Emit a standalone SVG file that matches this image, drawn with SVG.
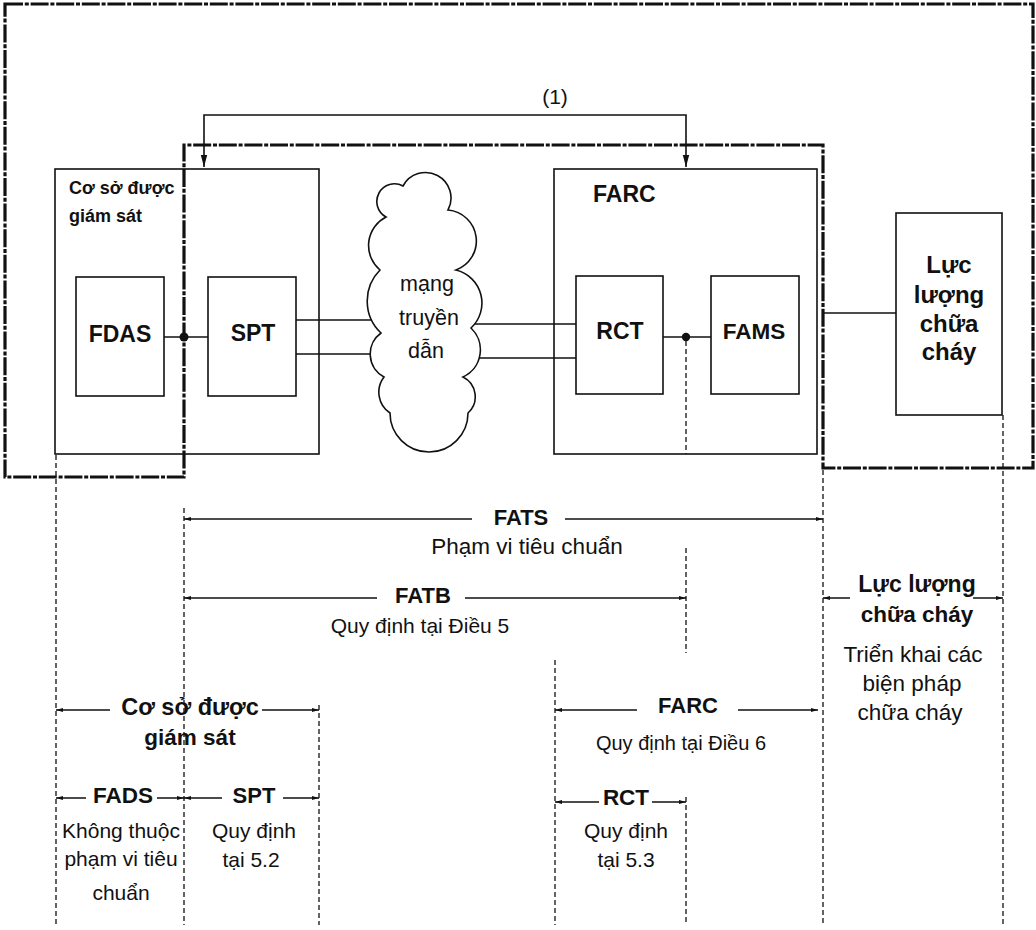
<svg xmlns="http://www.w3.org/2000/svg" width="1036" height="930" viewBox="0 0 1036 930">
<style>
.box{fill:none;stroke:#111;stroke-width:1.6}
.thick{fill:none;stroke:#111;stroke-width:3.2;stroke-dasharray:18 1.8 4 1.8}
.dash{fill:none;stroke:#111;stroke-width:1.3;stroke-dasharray:5 3}
.ln{fill:none;stroke:#111;stroke-width:1.6}
.br{fill:none;stroke:#111;stroke-width:1.5;marker-end:url(#sa)}
.b{font-family:"Liberation Sans",Arial,sans-serif;font-weight:bold;fill:#111}
.r{font-family:"Liberation Sans",Arial,sans-serif;fill:#111}
.m{text-anchor:middle}
</style>
<defs>
<marker id="ar" viewBox="0 0 12 8" refX="12" refY="4" markerWidth="12" markerHeight="8" markerUnits="userSpaceOnUse" orient="auto-start-reverse">
<path d="M0,0.8 L12,4 L0,7.2 Z" fill="#111"/>
</marker>
<marker id="sa" viewBox="0 0 7 5" refX="7" refY="2.5" markerWidth="7" markerHeight="5" markerUnits="userSpaceOnUse" orient="auto">
<path d="M0,0.5 L7,2.5 L0,4.5 Z" fill="#111"/>
</marker>
</defs>
<rect width="1036" height="930" fill="#fff"/>

<g id="scope-border">
<path class="thick" d="M5,4 H1033 V468 H823 V145 H184 V477 H5 Z"/>
</g>

<g id="connectors">
<path class="ln" d="M204,167 V115 H686 V167" stroke-width="2" marker-start="url(#ar)" marker-end="url(#ar)"/>
<line class="ln" x1="164" y1="337" x2="208" y2="337"/>
<line class="ln" x1="296" y1="320" x2="395" y2="320"/>
<line class="ln" x1="296" y1="354" x2="395" y2="354"/>
<line class="ln" x1="455" y1="324" x2="576" y2="324"/>
<line class="ln" x1="455" y1="358" x2="576" y2="358"/>
<line class="ln" x1="663" y1="337" x2="711" y2="337"/>
<line class="ln" x1="823" y1="313" x2="896" y2="313"/>
<circle cx="184" cy="337" r="4.5" fill="#111"/>
<circle cx="686" cy="337" r="4.2" fill="#111"/>
<line class="dash" x1="686" y1="341" x2="686" y2="454"/>
</g>

<g id="label-1">
<text class="r m" x="555" y="104" font-size="21">(1)</text>
</g>

<g id="node-co-so">
<rect class="box" x="55" y="169" width="264" height="285"/>
<text class="b" x="69" y="194" font-size="18">Cơ sở được</text>
<text class="b" x="69" y="222" font-size="18">giám sát</text>
</g>

<g id="node-fdas">
<rect class="box" x="76" y="277" width="88" height="119" fill="#fff"/>
<text class="b m" x="120" y="342" font-size="23">FDAS</text>
</g>

<g id="node-spt">
<rect class="box" x="208" y="277" width="88" height="119" fill="#fff"/>
<text class="b m" x="253" y="341" font-size="23">SPT</text>
</g>

<g id="node-cloud">
<path d="M403,186 A23.5,23.5 0 0 1 448,210 A31,31 0 0 1 456,270 A34,34 0 0 1 471,328 A30,30 0 0 1 463,377 A22,22 0 0 1 468,413 A39,39 0 0 1 390,413 A25,25 0 0 1 384,377 A26,26 0 0 1 381,333 A44,44 0 0 1 380,270 A32,32 0 0 1 386,217 A17,17 0 0 1 403,186 Z" fill="#fff" stroke="#111" stroke-width="1.6"/>
<text class="r m" x="427" y="291" font-size="21.5">mạng</text>
<text class="r m" x="429" y="325" font-size="21.5">truyền</text>
<text class="r m" x="426" y="358" font-size="21.5">dẫn</text>
</g>

<g id="node-farc">
<rect class="box" x="554" y="169" width="263" height="285"/>
<text class="b" x="593" y="202" font-size="23">FARC</text>
</g>

<g id="node-rct">
<rect class="box" x="576" y="276" width="87" height="118" fill="#fff"/>
<text class="b m" x="620" y="339" font-size="23">RCT</text>
</g>

<g id="node-fams">
<rect class="box" x="711" y="276" width="88" height="118" fill="#fff"/>
<text class="b m" x="754" y="339" font-size="22.5">FAMS</text>
</g>

<g id="node-luc-luong">
<rect class="box" x="896" y="213" width="106" height="202"/>
<text class="b m" x="949" y="273" font-size="24">Lực</text>
<text class="b m" x="949" y="303" font-size="24">lượng</text>
<text class="b m" x="949" y="332" font-size="24">chữa</text>
<text class="b m" x="949" y="360" font-size="24">cháy</text>
</g>

<g id="scope-lines">
<line class="dash" x1="56" y1="455" x2="56" y2="925"/>
<line class="dash" x1="184" y1="508" x2="184" y2="925"/>
<line class="dash" x1="319" y1="705" x2="319" y2="925"/>
<line class="dash" x1="555" y1="660" x2="555" y2="925"/>
<line class="dash" x1="686" y1="548" x2="686" y2="653"/>
<line class="dash" x1="686" y1="797" x2="686" y2="925"/>
<line class="dash" x1="823" y1="470" x2="823" y2="925"/>
<line class="dash" x1="1003" y1="415" x2="1003" y2="925"/>
</g>

<g id="bracket-fats">
<line class="br" x1="472" y1="519" x2="184" y2="519"/>
<line class="br" x1="565" y1="519" x2="823" y2="519"/>
<text class="b m" x="521" y="525" font-size="22">FATS</text>
<text class="r m" x="527" y="554" font-size="22.5">Phạm vi tiêu chuẩn</text>
</g>

<g id="bracket-fatb">
<line class="br" x1="377" y1="598" x2="184" y2="598"/>
<line class="br" x1="465" y1="598" x2="686" y2="598"/>
<text class="b m" x="423" y="603" font-size="22">FATB</text>
<text class="r m" x="420" y="633" font-size="21">Quy định tại Điều 5</text>
</g>

<g id="bracket-co-so">
<line class="br" x1="110" y1="710" x2="56" y2="710"/>
<line class="br" x1="262" y1="710" x2="319" y2="710"/>
<text class="b m" x="190" y="715" font-size="23.5">Cơ sở được</text>
<text class="b m" x="190" y="745" font-size="22.5">giám sát</text>
</g>

<g id="bracket-fads">
<line class="br" x1="86" y1="798" x2="56" y2="798"/>
<line class="br" x1="157" y1="798" x2="184" y2="798"/>
<text class="b m" x="123" y="803" font-size="22.5">FADS</text>
<text class="r m" x="121" y="838" font-size="21">Không thuộc</text>
<text class="r m" x="121" y="866" font-size="21">phạm vi tiêu</text>
<text class="r m" x="121" y="900" font-size="21">chuẩn</text>
</g>

<g id="bracket-spt">
<line class="br" x1="222" y1="798" x2="184" y2="798"/>
<line class="br" x1="283" y1="798" x2="319" y2="798"/>
<text class="b m" x="254" y="803" font-size="22">SPT</text>
<text class="r m" x="254" y="838" font-size="21">Quy định</text>
<text class="r m" x="251" y="867" font-size="21">tại 5.2</text>
</g>

<g id="bracket-farc">
<line class="br" x1="637" y1="710" x2="555" y2="710"/>
<line class="br" x1="738" y1="710" x2="818" y2="710"/>
<text class="b m" x="688" y="713" font-size="22">FARC</text>
<text class="r m" x="681" y="750" font-size="20">Quy định tại Điều 6</text>
</g>

<g id="bracket-rct">
<line class="br" x1="599" y1="802" x2="555" y2="802"/>
<line class="br" x1="652" y1="802" x2="686" y2="802"/>
<text class="b m" x="626" y="805" font-size="22.5">RCT</text>
<text class="r m" x="626" y="838" font-size="21">Quy định</text>
<text class="r m" x="626" y="867" font-size="21">tại 5.3</text>
</g>

<g id="bracket-luc-luong">
<line class="br" x1="850" y1="598" x2="823" y2="598"/>
<line class="br" x1="973" y1="598" x2="1003" y2="598"/>
<text class="b m" x="917" y="592" font-size="23">Lực lượng</text>
<text class="b m" x="917" y="622" font-size="22.5">chữa cháy</text>
<text class="r m" x="913" y="662" font-size="22.5">Triển khai các</text>
<text class="r m" x="912" y="691" font-size="22.5">biện pháp</text>
<text class="r m" x="910" y="720" font-size="22.5">chữa cháy</text>
</g>
</svg>
